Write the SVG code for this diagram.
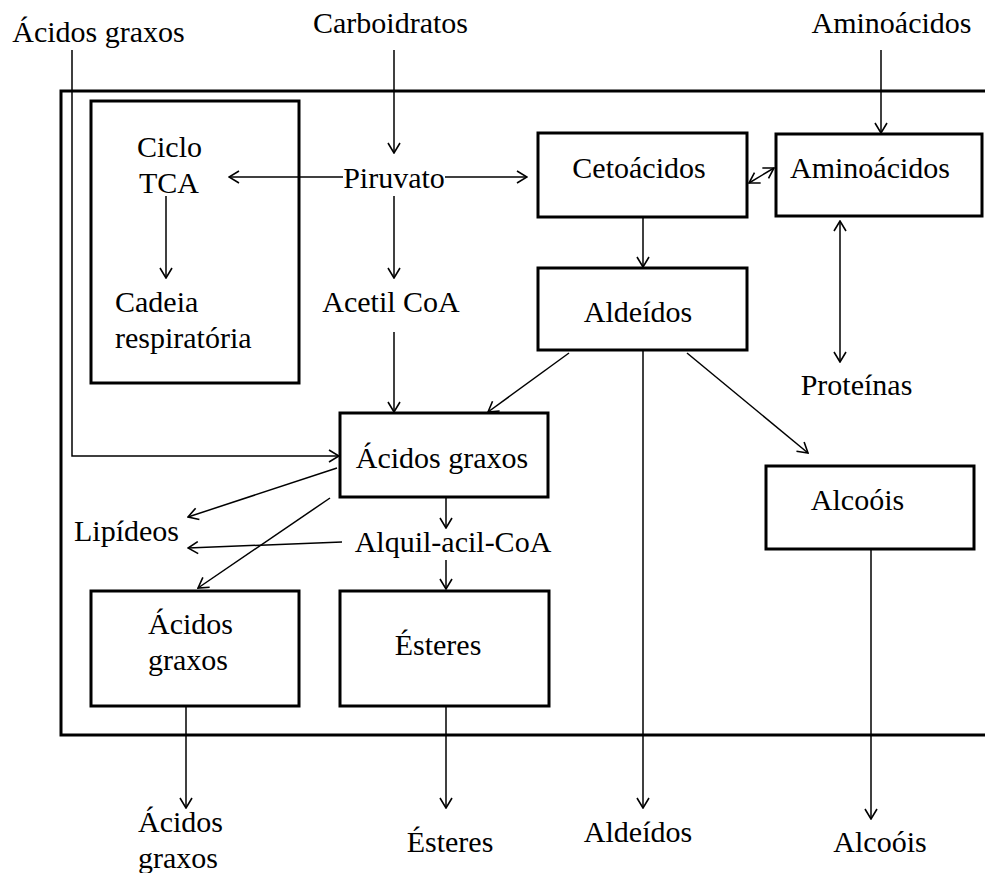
<svg xmlns="http://www.w3.org/2000/svg" width="985" height="873" viewBox="0 0 985 873">
<style>
text{font-family:"Liberation Serif","Times New Roman",serif;font-size:30px;fill:#000}
.m{text-anchor:middle}
.box{fill:none;stroke:#000;stroke-width:3}
.c{fill:none;stroke:#000;stroke-width:1.5}
.a{marker-end:url(#ah)}
.d{marker-end:url(#ah);marker-start:url(#ah)}
</style>
<defs>
<marker id="ah" viewBox="0 0 12 14" refX="11" refY="7" markerWidth="12" markerHeight="14" markerUnits="userSpaceOnUse" orient="auto-start-reverse">
<path d="M1,1 L11,7 L1,13" fill="none" stroke="#000" stroke-width="1.6"/>
</marker>
</defs>
<rect width="985" height="873" fill="#fff"/>
<g id="outer"><rect class="box" x="61" y="91" width="940" height="644"/></g>
<g id="connectors">
<polyline class="c a" points="72,50 72,456 339,456"/>
<line class="c a" x1="394" y1="50" x2="394" y2="153"/>
<line class="c a" x1="343" y1="177" x2="229" y2="177"/>
<line class="c a" x1="445" y1="177" x2="527" y2="177"/>
<line class="c a" x1="166" y1="196" x2="166" y2="278"/>
<line class="c a" x1="394" y1="196" x2="394" y2="278"/>
<line class="c a" x1="394" y1="332" x2="394" y2="412"/>
<line class="c a" x1="881" y1="50" x2="881" y2="133"/>
<line class="c d" x1="749" y1="183" x2="774" y2="168"/>
<line class="c a" x1="643" y1="217" x2="643" y2="267"/>
<line class="c d" x1="840" y1="221" x2="840" y2="362"/>
<line class="c a" x1="569" y1="353" x2="488" y2="412"/>
<line class="c a" x1="687" y1="353" x2="808" y2="453"/>
<line class="c a" x1="643" y1="350" x2="643" y2="808"/>
<line class="c a" x1="337" y1="468" x2="188" y2="517"/>
<line class="c a" x1="342" y1="542" x2="188" y2="548"/>
<line class="c a" x1="330" y1="498" x2="198" y2="588"/>
<line class="c a" x1="446" y1="497" x2="446" y2="528"/>
<line class="c a" x1="446" y1="560" x2="446" y2="589"/>
<line class="c a" x1="871" y1="549" x2="871" y2="819"/>
<line class="c a" x1="186" y1="706" x2="186" y2="808"/>
<line class="c a" x1="446" y1="706" x2="446" y2="808"/>
</g>
<g id="tca"><rect class="box" x="91" y="101" width="208" height="282"/>
<text x="137" y="157">Ciclo</text><text x="139" y="193">TCA</text>
<text x="115" y="312">Cadeia</text><text x="115" y="348">respiratória</text></g>
<g id="acidos-top"><text class="m" x="98.5" y="42">Ácidos graxos</text></g>
<g id="carboidratos"><text class="m" x="390.5" y="33">Carboidratos</text></g>
<g id="aminoacidos-top"><text class="m" x="891.5" y="33">Aminoácidos</text></g>
<g id="piruvato"><text class="m" x="394" y="188">Piruvato</text></g>
<g id="acetil"><text class="m" x="391" y="312">Acetil CoA</text></g>
<g id="cetoacidos"><rect class="box" x="538" y="133" width="209" height="84"/><text class="m" x="639" y="178">Cetoácidos</text></g>
<g id="aminoacidos"><rect class="box" x="776" y="134" width="206" height="82"/><text class="m" x="870" y="178">Aminoácidos</text></g>
<g id="aldeidos"><rect class="box" x="538" y="268" width="209" height="82"/><text class="m" x="638" y="322">Aldeídos</text></g>
<g id="proteinas"><text class="m" x="856.5" y="395">Proteínas</text></g>
<g id="acidos-mid"><rect class="box" x="340" y="413" width="208" height="84"/><text class="m" x="442" y="468">Ácidos graxos</text></g>
<g id="lipideos"><text class="m" x="126.5" y="541">Lipídeos</text></g>
<g id="alquil"><text class="m" x="453" y="552">Alquil-acil-CoA</text></g>
<g id="alcoois"><rect class="box" x="766" y="466" width="208" height="83"/><text class="m" x="857.5" y="510">Alcoóis</text></g>
<g id="acidos-low"><rect class="box" x="91" y="591" width="208" height="115"/><text x="148" y="634">Ácidos</text><text x="148" y="670">graxos</text></g>
<g id="esteres"><rect class="box" x="340" y="591" width="209" height="115"/><text class="m" x="438" y="655">Ésteres</text></g>
<g id="acidos-out"><text x="138" y="832">Ácidos</text><text x="138" y="868">graxos</text></g>
<g id="esteres-out"><text class="m" x="450" y="852">Ésteres</text></g>
<g id="aldeidos-out"><text class="m" x="638" y="842">Aldeídos</text></g>
<g id="alcoois-out"><text class="m" x="880" y="852">Alcoóis</text></g>
</svg>
